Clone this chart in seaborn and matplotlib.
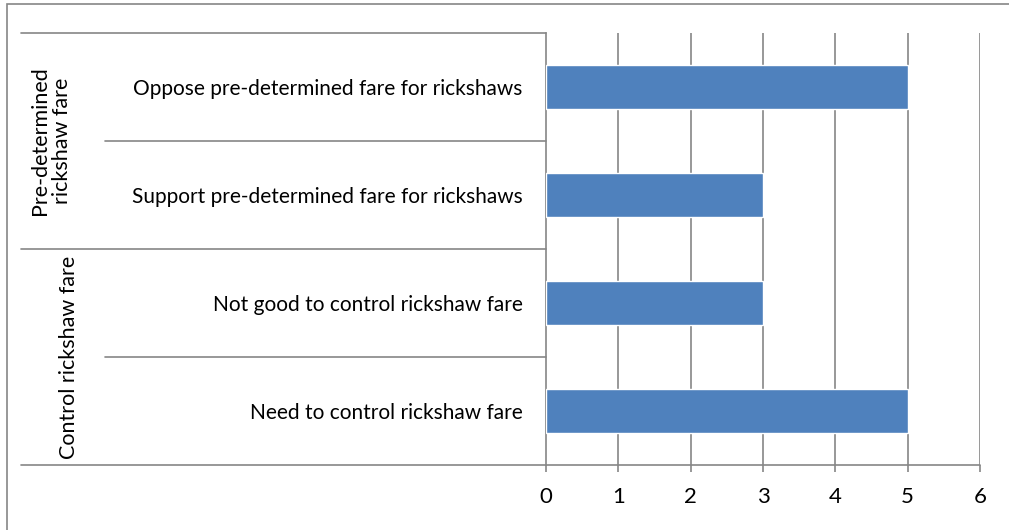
import matplotlib
matplotlib.use("Agg")
import matplotlib.pyplot as plt
import matplotlib.transforms as mtransforms
from matplotlib.patches import Rectangle
import seaborn as sns
import pandas as pd

categories = [
    "Oppose pre-determined fare for rickshaws",
    "Support pre-determined fare for rickshaws",
    "Not good to control rickshaw fare",
    "Need to control rickshaw fare",
]
values = [5, 3, 3, 5]
groups = ["Pre-determined\nrickshaw fare", "Control rickshaw fare"]
xticks = [0, 1, 2, 3, 4, 5, 6]

sns.set_theme(style="white")
plt.rcParams['font.family'] = ['Lato', 'DejaVu Sans']

W, H = 1009, 530
fig = plt.figure(figsize=(W / 100, H / 100), dpi=100)
ax_l, ax_r, ax_t, ax_b = 546, 980, 33, 465
ax = fig.add_axes([ax_l / W, 1 - ax_b / H, (ax_r - ax_l) / W, (ax_b - ax_t) / H])

df = pd.DataFrame({"cat": categories, "val": values})
sns.barplot(data=df, x="val", y="cat", orient="h", color="#4F81BD",
            width=0.4, saturation=1, ax=ax, zorder=3)

grid_c = "#868686"
ax.set_xlim(0, 6)
ax.set_ylim(3.5, -0.5)
ax.set_xticks(xticks)
ax.set_xticklabels([str(t) for t in xticks], fontsize=16, color="black")
ax.set_xlabel("")
ax.set_ylabel("")
for x in xticks[1:]:
    ax.axvline(x, color=grid_c, lw=1.2, zorder=1)
for s in ["top", "right", "bottom"]:
    ax.spines[s].set_visible(False)
ax.spines["left"].set_color(grid_c)
ax.spines["left"].set_linewidth(1.2)
ax.tick_params(axis="x", direction="out", length=5, width=1.2, color=grid_c, pad=11, bottom=True)
ax.tick_params(axis="y", length=0, pad=17, labelsize=15, labelcolor="black")

# label box lines
tr = mtransforms.blended_transform_factory(ax.transAxes, ax.transData)
def px2ax(px):
    return (px - ax_l) / (ax_r - ax_l)
x_outer = px2ax(21)
x_inner = px2ax(105)
lw = 1.2
ax.plot([x_outer, 0], [-0.5, -0.5], transform=tr, color=grid_c, lw=lw, clip_on=False)
ax.plot([x_outer, 1], [3.5, 3.5], transform=tr, color=grid_c, lw=lw, clip_on=False)
ax.plot([x_outer, 0], [1.5, 1.5], transform=tr, color=grid_c, lw=lw, clip_on=False)
for yy in [0.5, 2.5]:
    ax.plot([x_inner, 0], [yy, yy], transform=tr, color=grid_c, lw=lw, clip_on=False)

# group labels
ax.text(px2ax(51), 0.5, groups[0], transform=tr, rotation=90, ha="center", va="center",
        fontsize=15.5, linespacing=1.15, color="black")
ax.text(px2ax(69), 2.5, groups[1], transform=tr, rotation=90, ha="center", va="center",
        fontsize=15.5, color="black")

# outer frame
fig.patches.append(Rectangle((7 / W, -0.05), 1.1, 1 - 4 / H + 0.05, transform=fig.transFigure,
                             fill=False, edgecolor=grid_c, lw=1.2))

fig.savefig("out.png", dpi=100)
